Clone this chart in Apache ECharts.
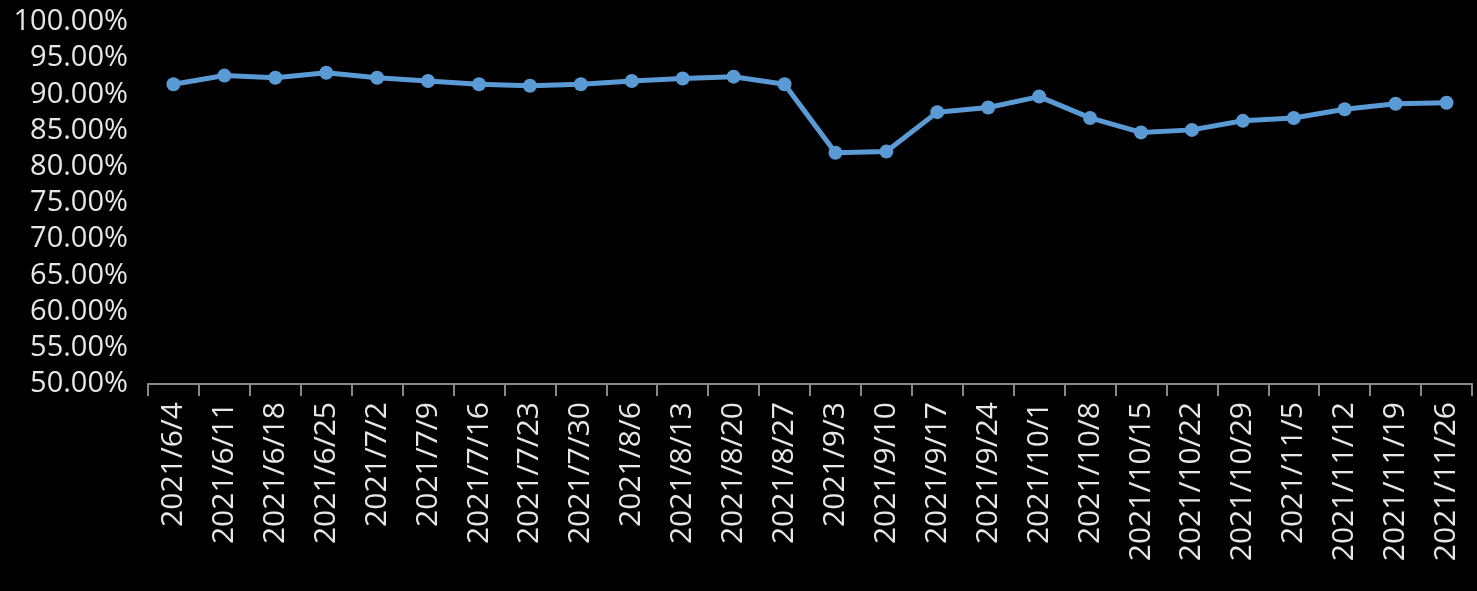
<!DOCTYPE html>
<html>
<head>
<meta charset="utf-8">
<script src="https://cdn.jsdelivr.net/npm/echarts@6/dist/echarts.min.js"></script>
<style>
html,body{margin:0;padding:0;background:#000;}
#chart{width:1477px;height:591px;}
</style>
</head>
<body>
<div id="chart"></div>
<script>
const categories = ['2021/6/4','2021/6/11','2021/6/18','2021/6/25','2021/7/2','2021/7/9','2021/7/16','2021/7/23','2021/7/30','2021/8/6','2021/8/13','2021/8/20','2021/8/27','2021/9/3','2021/9/10','2021/9/17','2021/9/24','2021/10/1','2021/10/8','2021/10/15','2021/10/22','2021/10/29','2021/11/5','2021/11/12','2021/11/19','2021/11/26'];
const values = [91.4,92.6,92.3,93.0,92.3,91.85,91.4,91.2,91.4,91.85,92.2,92.45,91.4,81.95,82.1,87.55,88.2,89.7,86.75,84.75,85.1,86.35,86.75,87.95,88.7,88.85];
const yMin = 50, yMax = 100, yStep = 5;

const chart = echarts.init(document.getElementById('chart'));
chart.setOption({
  backgroundColor: '#000',
  animation: false,
  grid: {left: 148, right: 5, top: 22, bottom: 207, containLabel: false},
  xAxis: {
    type: 'category',
    data: categories,
    boundaryGap: true,
    axisLine: {show: true, lineStyle: {color: '#898989', width: 2}},
    axisTick: {show: true, length: 12, alignWithLabel: false, lineStyle: {color: '#898989', width: 2}},
    axisLabel: {rotate: 90, interval: 0, margin: 18, color: '#e6e6e6', fontFamily: 'Open Sans', fontSize: 30}
  },
  yAxis: {
    type: 'value',
    min: yMin, max: yMax, interval: yStep,
    axisLine: {show: false},
    axisTick: {show: false},
    splitLine: {show: false},
    axisLabel: {margin: 20, color: '#e6e6e6', fontFamily: 'Open Sans', fontSize: 29,
      formatter: v => v.toFixed(2) + '%'}
  },
  series: [{
    type: 'line',
    data: values,
    symbol: 'circle',
    symbolSize: 14,
    lineStyle: {color: '#5b9bd5', width: 5},
    itemStyle: {color: '#5b9bd5'}
  }]
});
</script>
</body>
</html>
